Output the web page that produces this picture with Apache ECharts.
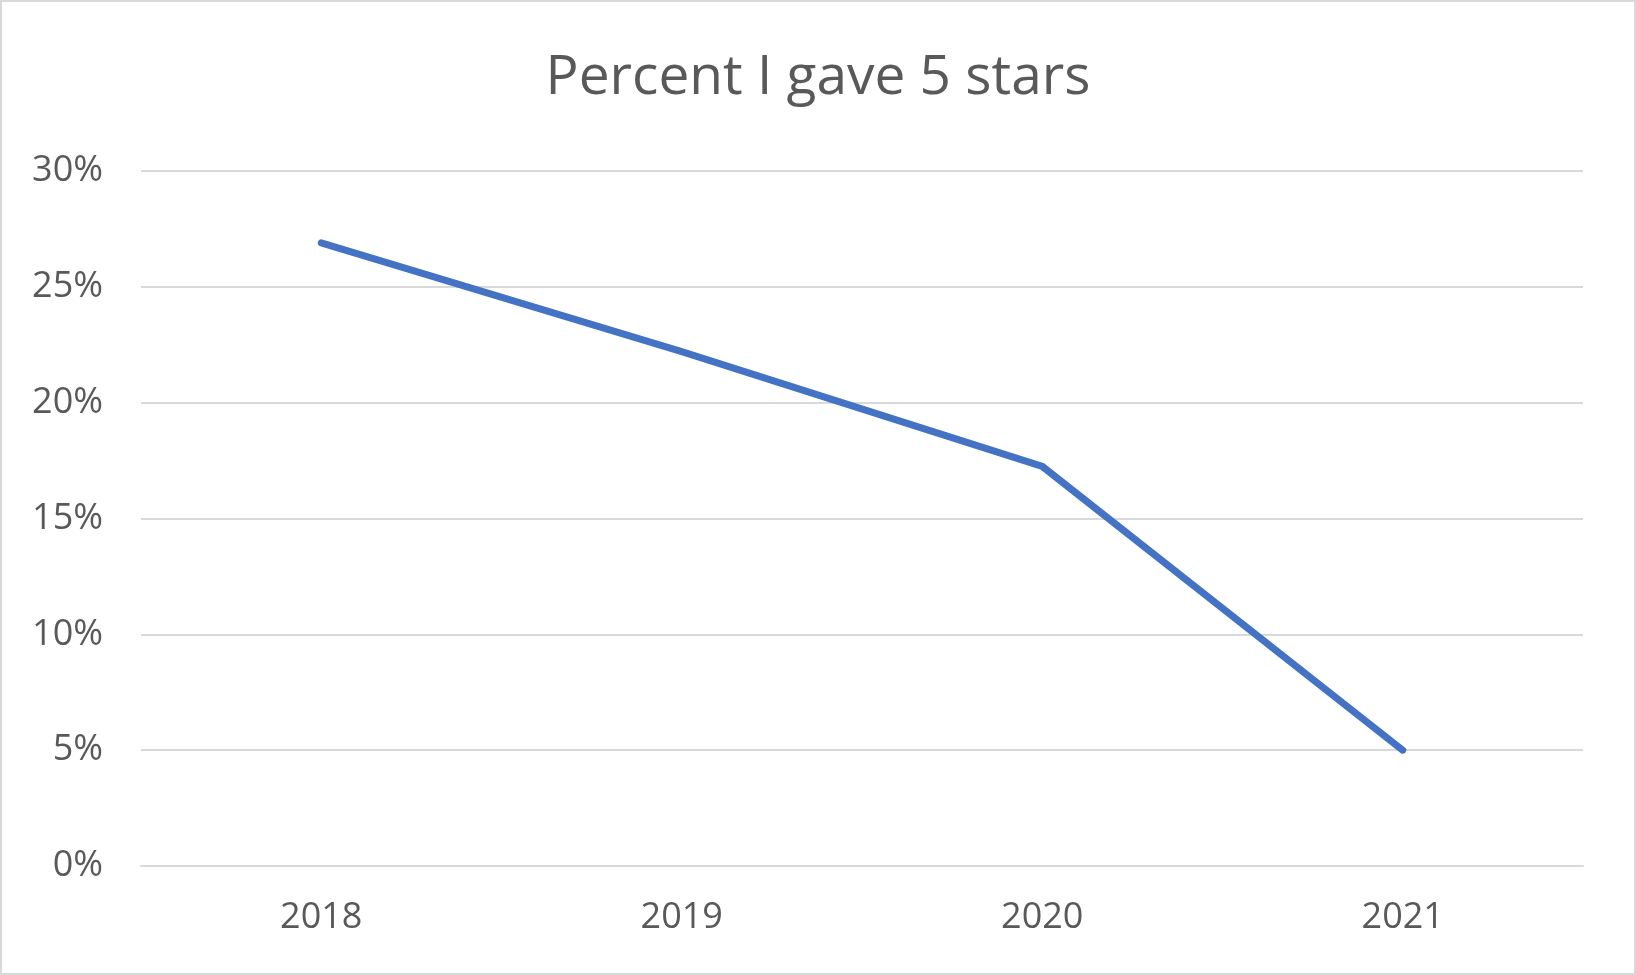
<!DOCTYPE html>
<html><head><meta charset="utf-8">
<script src="https://cdn.jsdelivr.net/npm/echarts@6/dist/echarts.min.js"></script>
<style>html,body{margin:0;padding:0;background:#fff}#c{width:1636px;height:975px;box-sizing:border-box;border:2px solid #d9d9d9}</style>
</head><body><div id="c"></div>
<script>
const categories = ['2018','2019','2020','2021'];
const values = [26.9, 22.2, 17.25, 5.0];
const title = 'Percent I gave 5 stars';
const chart = echarts.init(document.getElementById('c'));
chart.setOption({
  animation:false,
  title:{text:title,left:'center',top:44,textStyle:{fontFamily:'Open Sans',fontSize:55,fontWeight:'normal',color:'#595959'}},
  grid:{left:139,right:51,top:169,bottom:107},
  xAxis:{type:'category',data:categories,boundaryGap:true,
    axisLine:{lineStyle:{color:'#d9d9d9',width:2}},axisTick:{show:false},
    axisLabel:{color:'#595959',fontSize:36,fontFamily:'Open Sans',margin:34}},
  yAxis:{type:'value',min:0,max:30,interval:5,
    axisLine:{show:false},axisTick:{show:false},
    splitLine:{lineStyle:{color:'#d9d9d9',width:2}},
    axisLabel:{color:'#595959',fontSize:36,fontFamily:'Open Sans',formatter:'{value}%',margin:38}},
  series:[{type:'line',data:values,symbol:'none',lineStyle:{color:'#4472c4',width:7,cap:'round',join:'round'}}]
});
</script></body></html>
